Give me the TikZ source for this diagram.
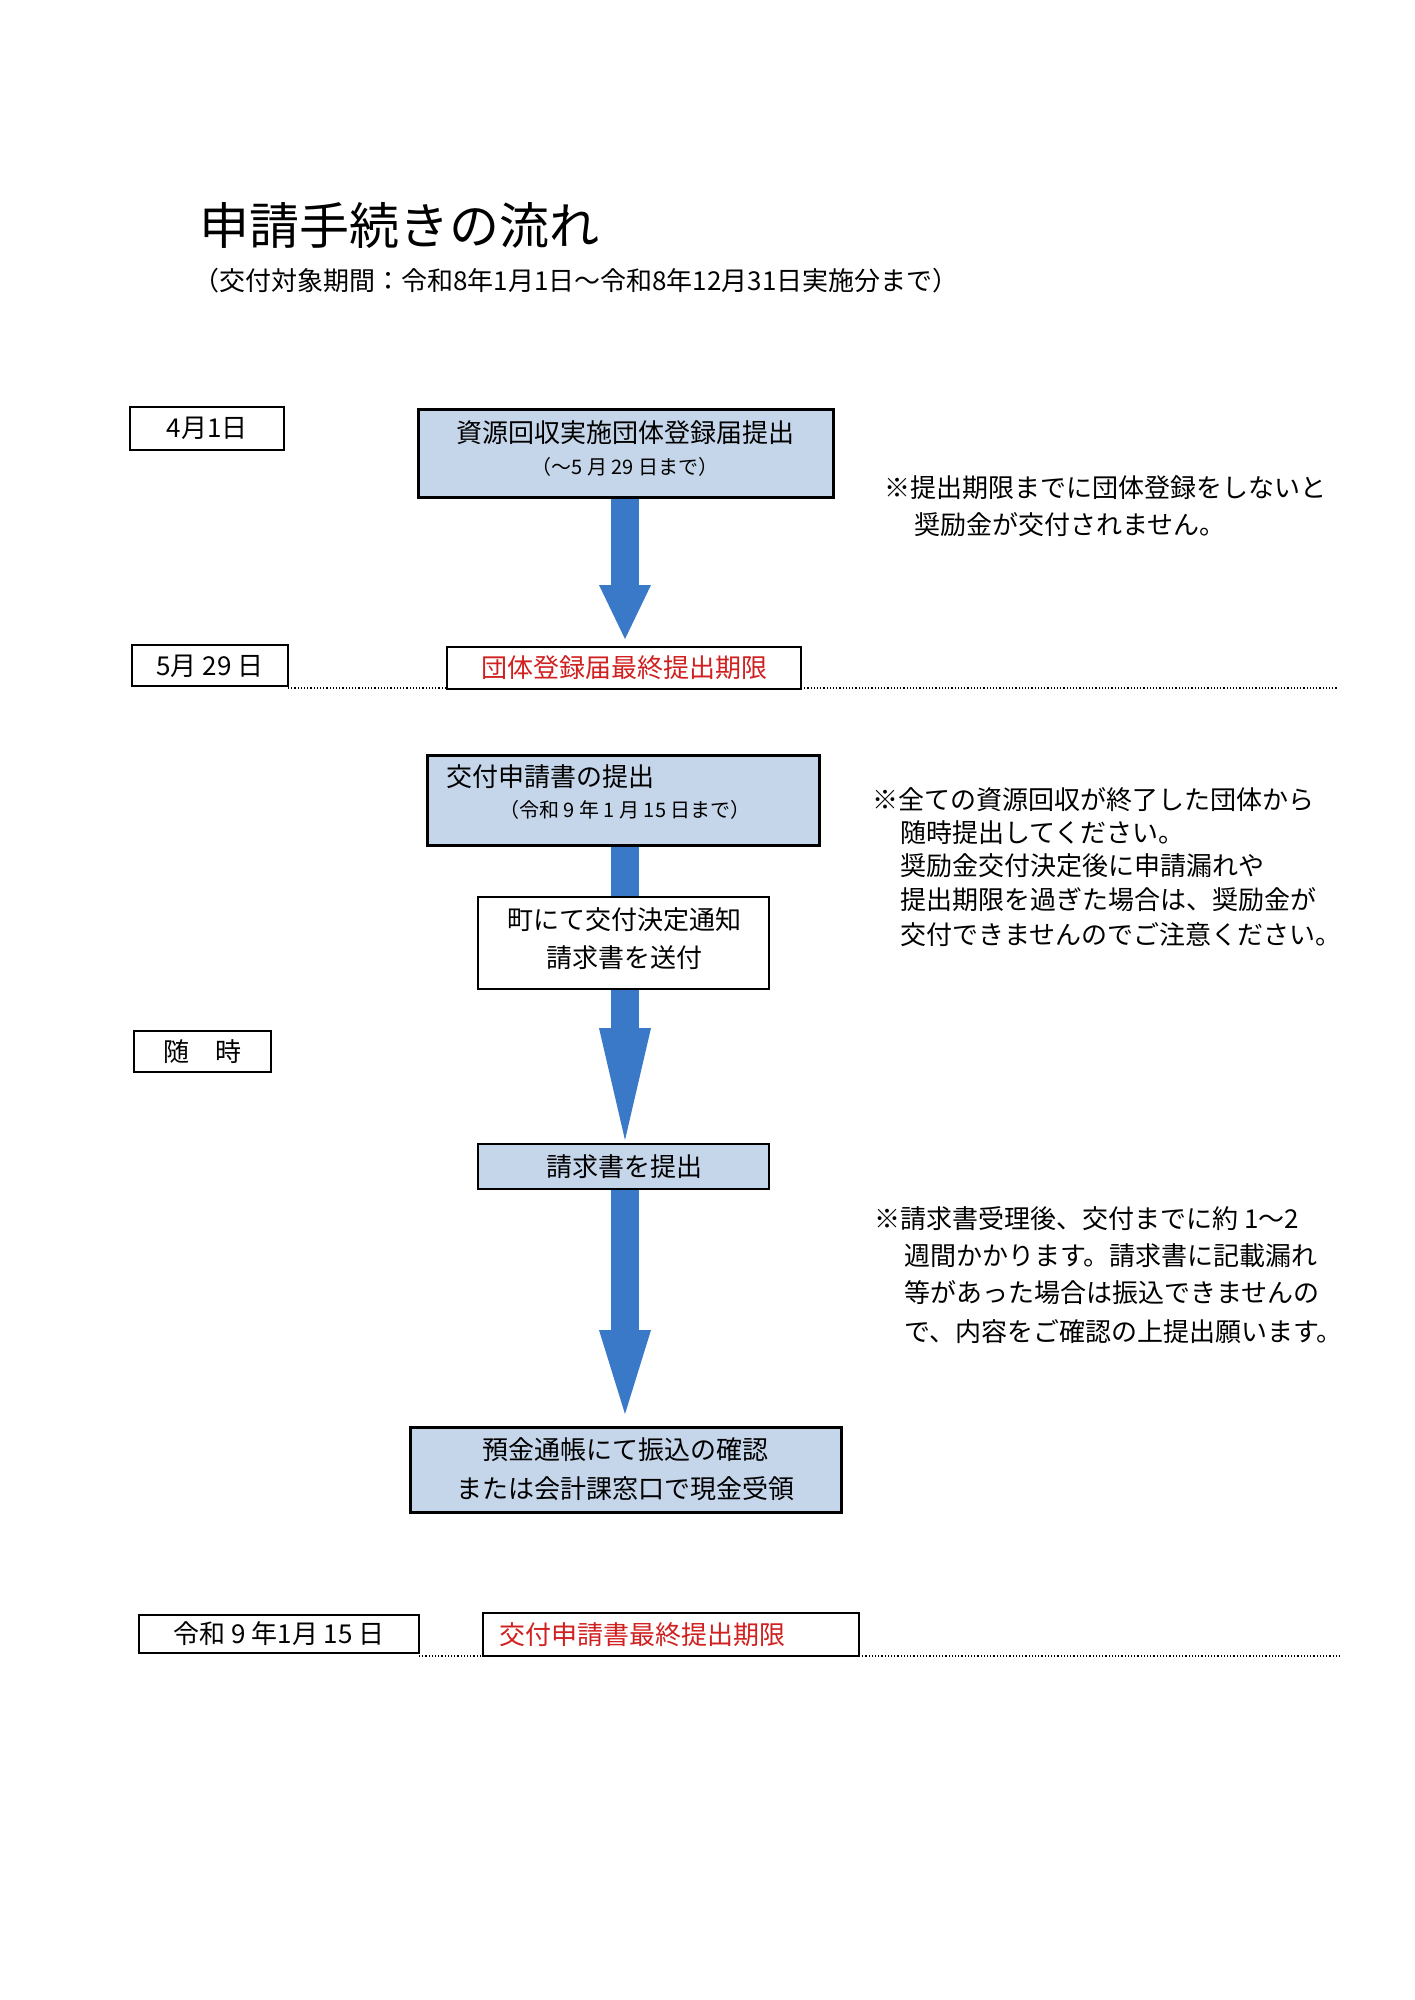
\documentclass[tikz,border=0pt]{standalone}
\usepackage{fontspec}
\setmainfont{Noto Sans CJK JP}
\definecolor{boxblue}{HTML}{C6D6EA}
\definecolor{arrblue}{HTML}{3A78C8}
\definecolor{dred}{HTML}{D02020}
\begin{document}
\begin{tikzpicture}[x=1pt,y=-1pt,
  txt/.style={font=\fontsize{26}{30}\selectfont,anchor=west,inner sep=0},
  btxt/.style={font=\fontsize{26}{30}\selectfont,inner sep=0},
  stxt/.style={font=\fontsize{20}{24}\selectfont,inner sep=0},
  datebox/.style={draw,line width=1.5pt},
  flowbox/.style={draw,line width=3pt,fill=boxblue},
  arr/.style={fill=arrblue,draw=none},
  dotl/.style={line width=1.2pt,dotted}]
\useasboundingbox (0,0) rectangle (1414,2000);
\fill[white] (0,0) rectangle (1414,2000);
\node[anchor=west,inner sep=0,font=\fontsize{50}{56}\selectfont] (title) at (199,225) {申請手続きの流れ};
\node[anchor=west,inner sep=0,font=\fontsize{26}{30}\selectfont] (sub) at (193,281) {（交付対象期間：令和8年1月1日～令和8年12月31日実施分まで）};
% arrows (drawn first, behind boxes)
\coordinate (c) at (625,0);
\fill[arr] (611,497) rectangle (639,585);
\fill[arr] (599,585) -- (651,585) -- (625,639) -- cycle;
\fill[arr] (611,845) rectangle (639,1028);
\fill[arr] (599,1028) -- (651,1028) -- (625,1140) -- cycle;
\fill[arr] (611,1189) rectangle (639,1330);
\fill[arr] (599,1330) -- (651,1330) -- (625,1414) -- cycle;
% boxes
\draw[datebox] (130,407) rectangle (284,450);
\node[btxt] (d1) at (207,428) {4月1日};
\draw[flowbox] (418,409) rectangle (833,497);
\node[btxt] (b1a) at (625,433) {資源回収実施団体登録届提出};
\node[stxt] (b1b) at (625,467) {（～5 月 29 日まで）};
\node[txt] (n1a) at (884,488) {※提出期限までに団体登録をしないと};
\node[txt] (n1b) at (914,525) {奨励金が交付されません。};
\draw[datebox] (132,645) rectangle (288,686);
\node[btxt] (d2) at (210,666) {5月 29 日};
\draw[datebox] (447,647) rectangle (801,689);
\node[btxt,text=dred] (r1) at (624,668) {団体登録届最終提出期限};
\draw[dotl] (288,688) -- (447,688);
\draw[dotl] (801,688) -- (1337,688);
\draw[flowbox] (427,755) rectangle (819,845);
\node[txt] (b2a) at (446,777) {交付申請書の提出};
\node[stxt] (b2b) at (625,810) {（令和 9 年 1 月 15 日まで）};
\node[txt] (n2a) at (872,800) {※全ての資源回収が終了した団体から};
\node[txt] (n2b) at (900,833) {随時提出してください。};
\node[txt] (n2c) at (900,866) {奨励金交付決定後に申請漏れや};
\node[txt] (n2d) at (900,900) {提出期限を過ぎた場合は、奨励金が};
\node[txt] (n2e) at (900,935) {交付できませんのでご注意ください。};
\draw[datebox,fill=white] (478,897) rectangle (769,989);
\node[btxt] (b3a) at (624,920) {町にて交付決定通知};
\node[btxt] (b3b) at (624,958) {請求書を送付};
\draw[datebox] (134,1031) rectangle (271,1072);
\node[btxt] (d3) at (202,1052) {随　時};
\draw[flowbox,line width=2.5pt] (478,1144) rectangle (769,1189);
\node[btxt] (b4) at (624,1167) {請求書を提出};
\node[txt] (n3a) at (874,1219) {※請求書受理後、交付までに約 1～2};
\node[txt] (n3b) at (904,1256) {週間かかります。請求書に記載漏れ};
\node[txt] (n3c) at (904,1293) {等があった場合は振込できませんの};
\node[txt] (n3d) at (904,1332) {で、内容をご確認の上提出願います。};
\draw[flowbox] (410,1427) rectangle (841,1512);
\node[btxt] (b5a) at (625,1450) {預金通帳にて振込の確認};
\node[btxt] (b5b) at (625,1489) {または会計課窓口で現金受領};
\draw[datebox] (139,1615) rectangle (419,1653);
\node[btxt] (d4) at (279,1634) {令和 9 年1月 15 日};
\draw[datebox] (483,1613) rectangle (859,1656);
\node[txt,text=dred] (r2) at (499,1635) {交付申請書最終提出期限};
\draw[dotl] (419,1656) -- (483,1656);
\draw[dotl] (859,1656) -- (1342,1656);
\end{tikzpicture}
\end{document}
